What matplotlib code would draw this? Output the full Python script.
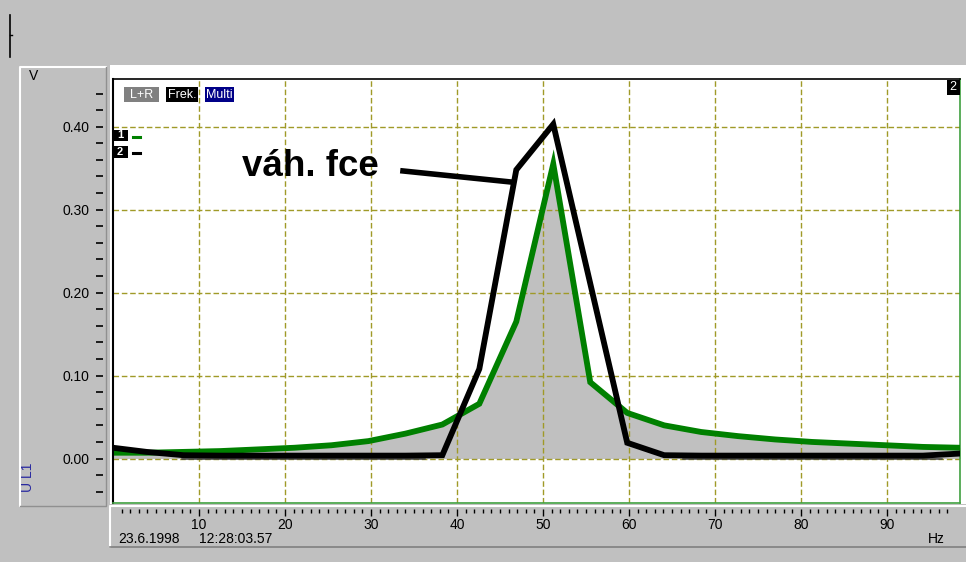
import matplotlib
matplotlib.use("Agg")
import matplotlib.pyplot as plt
from matplotlib.patches import Rectangle
from matplotlib.lines import Line2D
import numpy as np

plt.rcParams['font.family'] = ['Liberation Sans', 'DejaVu Sans']

# Spectrum lines (Hz) and the two traces (V)
freq = [0.0, 3.9, 8.2, 12.5, 16.8, 21.1, 25.4, 29.7, 34.0, 38.3, 42.6, 46.9,
        51.2, 55.5, 59.8, 64.1, 68.4, 72.7, 77.0, 81.3, 85.6, 89.9, 94.2, 98.5]
u_signal = [0.007, 0.007, 0.008, 0.009, 0.011, 0.013, 0.016, 0.021, 0.030, 0.041, 0.066, 0.165,
            0.355, 0.092, 0.055, 0.040, 0.032, 0.027, 0.023, 0.020, 0.018, 0.016, 0.014, 0.013]
u_weight = [0.013, 0.008, 0.004, 0.0035, 0.0035, 0.0035, 0.0035, 0.0035, 0.0035, 0.004, 0.108, 0.348,
            0.403, 0.211, 0.019, 0.004, 0.0035, 0.0035, 0.0035, 0.0035, 0.0035, 0.0035, 0.0035, 0.006]

# thin reference trace near zero
base_left_x = [8.0, 36.3]
base_right_x = [66.3, 96.4]
base_y = [-0.001, -0.001]

# pointer for the label
label_text = "váh. fce"
label_pos = (15.0, 0.341)
pointer_x = [33.4, 46.6]
pointer_y = [0.347, 0.333]

x_major = [10, 20, 30, 40, 50, 60, 70, 80, 90]
x_minor = [i for i in range(1, 98) if i % 10 != 0]
y_major = [0.0, 0.1, 0.2, 0.3, 0.4]
y_ticks = [round(-0.04 + 0.02 * i, 2) for i in range(25)]

W, H = 966, 562
BG = '#c0c0c0'


def fx(x):
    return x / W


def fy(y):
    return 1 - y / H


def fig_rect(fig, x0, y0, x1, y1, **kw):
    fig.patches.append(Rectangle((fx(x0), fy(y1)), fx(x1 - x0), (y1 - y0) / H,
                                 transform=fig.transFigure, **kw))


def fig_line(fig, xs, ys, **kw):
    fig.lines.append(Line2D([fx(v) for v in xs], [fy(v) for v in ys],
                            transform=fig.transFigure, **kw))


def fig_text(fig, x, y, s, **kw):
    fig.text(fx(x), fy(y), s, **kw)


fig = plt.figure(figsize=(W / 100, H / 100), dpi=100, facecolor=BG)

# small mark at top left
fig_line(fig, [9.5, 9.5], [15, 57], color='black', lw=1.2)
fig_line(fig, [9.5, 12], [35, 35], color='black', lw=1)

# left (value) panel
fig_rect(fig, 19, 66.5, 106, 506, facecolor=BG, edgecolor='none', zorder=-3)
fig_line(fig, [19.5, 19.5, 106], [506, 67, 67], color='white', lw=1.5, zorder=-2)
fig_line(fig, [19.5, 106, 106], [506, 506, 67], color='#909090', lw=1, zorder=-2)

# white plot panel
fig_rect(fig, 110, 65, 966, 504, facecolor='white', edgecolor='none', zorder=-3)

# bottom (frequency) panel
fig_line(fig, [109.5, 109.5, 966], [547, 506, 506], color='white', lw=1.5, zorder=-2)
fig_line(fig, [109.5, 966], [547, 547], color='#808080', lw=1.2, zorder=-2)

ax = fig.add_axes([fx(113), fy(503), fx(960 - 113), (503 - 79) / H])
ax.set_facecolor('white')
ax.set_xlim(0, 98.5)
ax.set_ylim(-0.0536, 0.4575)

ax.fill_between(freq, u_signal, 0, color=BG, lw=0, zorder=1)
ax.plot(base_left_x, base_y, color='#404040', lw=1.1, zorder=2)
ax.plot(base_right_x, base_y, color='#404040', lw=1.1, zorder=2)
ax.plot(freq, u_signal, color='#008000', lw=4.2, zorder=3, solid_joinstyle='miter')
ax.plot(freq, u_weight, color='black', lw=4.2, zorder=4, solid_joinstyle='miter')
ax.plot(pointer_x, pointer_y, color='black', lw=4.0, zorder=4, solid_capstyle='butt')
ax.text(label_pos[0], label_pos[1], label_text, fontsize=26.5, fontweight='bold',
        ha='left', va='baseline', zorder=5)

# grid
ax.set_xticks(x_major)
ax.set_xticks(x_minor, minor=True)
ax.set_yticks(y_ticks)
ax.set_yticklabels([f"{v:.2f}" if round(v * 10, 6) % 1 == 0 and v >= 0 else "" for v in y_ticks])
for v in x_major:
    ax.axvline(v, color='#a09a28', lw=1, ls=(0, (4, 2)), zorder=1.5)
for v in y_major:
    ax.axhline(v, color='#a09a28', lw=1, ls=(0, (4, 2)), zorder=1.5)

# frame
for s in ['left', 'bottom']:
    ax.spines[s].set_visible(False)
ax.spines['left'].set_position(('outward', 7))
ax.spines['bottom'].set_position(('outward', 4))
ax.spines['top'].set_color('black')
ax.spines['top'].set_linewidth(1.2)
ax.spines['right'].set_color('#40a040')
ax.spines['right'].set_linewidth(1.2)
ax.plot([0, 0], [0, 1], transform=ax.transAxes, color='black', lw=1.5, clip_on=False, zorder=6)
ax.plot([0, 1], [0, 0], transform=ax.transAxes, color='#40a040', lw=1.2, clip_on=False, zorder=6)

ax.tick_params(axis='y', direction='out', length=5, width=1.2, pad=5, labelsize=10, colors='black')
ax.tick_params(axis='x', which='major', direction='out', length=5, width=1, pad=2, labelsize=10)
ax.tick_params(axis='x', which='minor', direction='out', length=3, width=1)

# axis captions
fig_text(fig, 34, 76, "V", fontsize=10, ha='center', va='center')
fig_text(fig, 28, 477, "U L1", fontsize=10, color='#2828a0', rotation=90, ha='center', va='center')
fig_text(fig, 118, 539, "23.6.1998", fontsize=10, ha='left', va='center')
fig_text(fig, 199, 539, "12:28:03.57", fontsize=10, ha='left', va='center')
fig_text(fig, 928, 539, "Hz", fontsize=10, ha='left', va='center')

# header tags
for x0, x1, s, bg in [(124, 159, "L+R", '#808080'), (166, 198, "Frek.", 'black'), (205, 234, "Multi", '#000088')]:
    fig_rect(fig, x0, 87, x1, 102, facecolor=bg, edgecolor='none', zorder=5)
    fig_text(fig, (x0 + x1) / 2, 94.5, s, fontsize=9, color='white', ha='center', va='center', zorder=6)

for y0, s, col in [(129.5, "1", '#008000'), (146, "2", 'black')]:
    fig_rect(fig, 113, y0, 127.5, y0 + 11.5, facecolor='black', edgecolor='none', zorder=5)
    fig_text(fig, 120, y0 + 6, s, fontsize=8, color='white', ha='center', va='center', zorder=6,
             fontweight='bold')
    fig_line(fig, [133, 139.5], [y0 + 7, y0 + 7], color=col, lw=2.2, zorder=6)

fig_rect(fig, 947, 79.5, 959.5, 94.5, facecolor='black', edgecolor='none', zorder=5)
fig_text(fig, 953.2, 87, "2", fontsize=9, color='white', ha='center', va='center', zorder=6)

fig.savefig("out.png", dpi=100, facecolor=BG)
